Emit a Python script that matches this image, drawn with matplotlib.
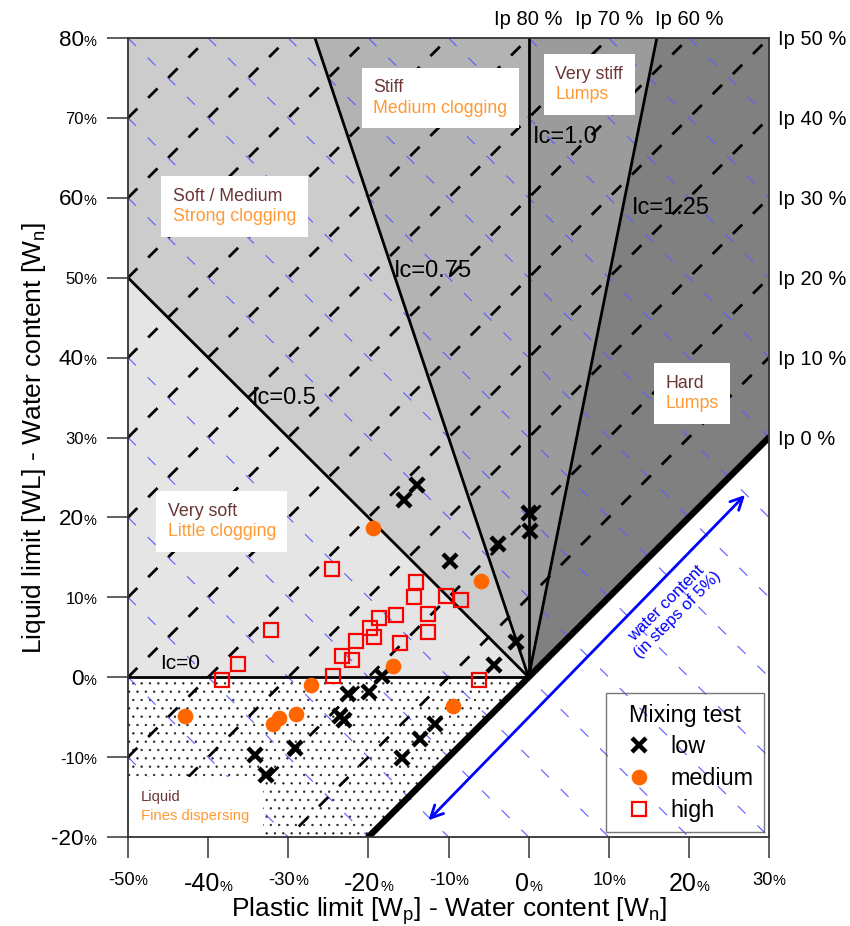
import numpy as np
import matplotlib
matplotlib.use("Agg")
import matplotlib.pyplot as plt
from matplotlib.patches import Polygon
from matplotlib.lines import Line2D
from matplotlib.offsetbox import TextArea, HPacker, VPacker, AnnotationBbox

plt.rcParams["font.family"] = ["Liberation Sans", "DejaVu Sans"]
plt.rcParams["mathtext.fontset"] = "custom"
plt.rcParams["mathtext.rm"] = "Liberation Sans"
plt.rcParams["mathtext.it"] = "Liberation Sans:italic"
plt.rcParams["hatch.linewidth"] = 0.45
plt.rcParams["lines.scale_dashes"] = False

# mixing test results, x = Wp - Wn, y = WL - Wn (in %)
low_x = [-15.6, -13.9, -9.8, -3.8, 0.1, 0.2, -1.6, -4.3, -18.3, -19.9, -22.5,
         -23.5, -23.0, -29.2, -34.2, -32.8, -11.7, -13.6, -15.8]
low_y = [22.2, 24.0, 14.5, 16.7, 20.6, 18.3, 4.4, 1.5, 0.1, -1.8, -2.1,
         -4.9, -5.4, -8.9, -9.7, -12.2, -5.9, -7.7, -10.1]
med_x = [-19.4, -6.0, -16.9, -27.1, -42.9, -29.0, -31.2, -31.9, -9.4]
med_y = [18.7, 12.1, 1.4, -1.0, -4.9, -4.6, -5.1, -5.8, -3.6]
high_x = [-24.5, -32.1, -36.3, -38.3, -24.4, -23.3, -22.1, -21.5, -19.8, -19.3,
          -18.7, -16.6, -16.1, -14.3, -14.1, -12.6, -12.5, -10.3, -8.4, -6.2]
high_y = [13.5, 5.9, 1.6, -0.4, 0.1, 2.7, 2.2, 4.5, 6.2, 5.0,
          7.4, 7.8, 4.3, 10.1, 11.9, 7.9, 5.7, 10.2, 9.7, -0.3]

# consistency index zones
ic_levels = [0, 0.5, 0.75, 1.0, 1.25]
ic_label_xy = [(-43.5, 1.7), (-30.5, 34.9), (-11.9, 50.9), (4.6, 67.6), (17.8, 58.7)]
ic_label_size = [15, 17, 17, 17, 17]
zone_fill = ["#e5e5e5", "#cccccc", "#b3b3b3", "#9b9b9b", "#808080"]

zone_names = ["Liquid", "Very soft", "Soft / Medium", "Stiff", "Very stiff", "Hard"]
zone_effects = ["Fines dispersing", "Little clogging", "Strong clogging",
                "Medium clogging", "Lumps", "Lumps"]
zone_box_xy = [(-50, -12.5), (-46.5, 23.3), (-45.85, 62.7), (-20.8, 76.3),
               (1.9, 78.0), (15.65, 39.3)]
zone_font = [10.7, 12.8, 12.8, 12.8, 12.8, 12.8]
zone_pad = [9.5, 8.3, 8.3, 8.3, 8.3, 8.3]
zone_sep = [3.2, 2.6, 2.6, 2.6, 2.6, 2.6]

ip_top = [80, 70, 60]
ip_right = [50, 40, 30, 20, 10, 0]
ip_lines = list(range(10, 130, 10))
wc_lines = list(range(-60, 110, 10))

x_ticks = [-50, -40, -30, -20, -10, 0, 10, 20, 30]
y_ticks = [-20, -10, 0, 10, 20, 30, 40, 50, 60, 70, 80]

XMIN, XMAX, YMIN, YMAX = -50, 30, -20, 80

fig = plt.figure(figsize=(8.5, 9.26), dpi=100)
ax = fig.add_axes([128 / 850, 1 - 837 / 926, 641 / 850, 799 / 926])
ax.set_xlim(XMIN, XMAX)
ax.set_ylim(YMIN, YMAX)


def unit(d):
    d = np.asarray(d, float)
    return d / np.hypot(*d)


def wedge(d1, d2, R=500):
    return [(0, 0), tuple(R * unit(d1)), tuple(R * unit(d2))]


# boundary directions from the origin, going round counter-clockwise
ic_dirs = [(ic - 1, ic) for ic in ic_levels]
dirs = [(-1, -1)] + ic_dirs + [(1, 1)]

# liquid zone (Ic < 0), stippled
ax.add_patch(Polygon(wedge(dirs[0], dirs[1]), closed=True, facecolor="white",
                     edgecolor="#222222", lw=0, hatch="..", zorder=1))
for i, col in enumerate(zone_fill):
    ax.add_patch(Polygon(wedge(dirs[i + 1], dirs[i + 2]), closed=True,
                         facecolor=col, edgecolor="none", zorder=1))

# water content lines (blue) and plasticity index lines (black)
xs = np.array([XMIN, XMAX])
for c in wc_lines:
    ax.plot(xs, c - xs, color="#5c5cff", lw=0.8, dashes=(8, 12), zorder=2)
for ip in ip_lines:
    ax.plot(xs, xs + ip, color="black", lw=2, dashes=(9.5, 11), zorder=2)

# Ic boundaries
for d in ic_dirs:
    e = 500 * unit(d)
    ax.plot([0, e[0]], [0, e[1]], color="black", lw=2, zorder=3)
ax.plot([YMIN, XMAX], [YMIN, XMAX], color="black", lw=4.6,
        solid_capstyle="round", zorder=3)

for ic, (tx, ty), fs in zip(ic_levels, ic_label_xy, ic_label_size):
    lab = "Ic=1.0" if ic == 1.0 else f"Ic={ic:g}"
    ax.text(tx, ty, lab, fontsize=fs, ha="center", va="center", zorder=4)

# zone boxes
for name, eff, xy, fs, pd, sp in zip(zone_names, zone_effects, zone_box_xy,
                                     zone_font, zone_pad, zone_sep):
    pack = VPacker(children=[TextArea(name, textprops=dict(color="#6b3535", size=fs)),
                             TextArea(eff, textprops=dict(color="#ff9933", size=fs))],
                   align="left", pad=pd, sep=sp)
    ab = AnnotationBbox(pack, xy, xycoords="data", box_alignment=(0, 1),
                        frameon=True, pad=0, annotation_clip=False,
                        bboxprops=dict(facecolor="white", edgecolor="none",
                                       boxstyle="square,pad=0"))
    ab.set_zorder(5)
    ax.add_artist(ab)

# Ip labels
for ip in ip_top:
    ax.text(80 - ip, 81.6, f"Ip {ip} %", fontsize=14.5, ha="center",
            va="baseline", clip_on=False)
for ip in ip_right:
    ax.text(31.1, 30 + ip - 0.9, f"Ip {ip} %", fontsize=14.5, ha="left",
            va="baseline", clip_on=False)

# water content arrow
ax.annotate("", xy=(-12.5, -17.9), xytext=(27.0, 22.8),
            arrowprops=dict(arrowstyle="<->", color="#0000ff", lw=2,
                            mutation_scale=22, shrinkA=0, shrinkB=0), zorder=4)
ax.text(17.9, 8.5, "water content\n(in steps of 5%)", color="#0000ff",
        fontsize=12, rotation=45, rotation_mode="anchor", ha="center",
        va="center", multialignment="center", linespacing=1.05, zorder=4)

# data points
ax.plot(low_x, low_y, ls="none", marker="x", ms=9.5, mew=3.2, color="black", zorder=6)
ax.plot(med_x, med_y, ls="none", marker="o", ms=11.3, mew=0, color="#ff6600", zorder=6)
ax.plot(high_x, high_y, ls="none", marker="s", ms=10, mew=1.6, mfc="none",
        mec="#ff0000", zorder=6)

handles = [
    Line2D([], [], ls="none", marker="x", ms=9.5, mew=3.2, color="black", label="low"),
    Line2D([], [], ls="none", marker="o", ms=11.3, mew=0, color="#ff6600", label="medium"),
    Line2D([], [], ls="none", marker="s", ms=10, mew=1.6, mfc="none", mec="#ff0000",
           label="high"),
]
leg = ax.legend(handles=handles, title="Mixing test", loc="lower right",
                bbox_to_anchor=(0.992, 0.006), borderaxespad=0, fontsize=16.8,
                title_fontsize=16.8, frameon=True, fancybox=False, facecolor="none",
                edgecolor="#555555", handlelength=1.9, handletextpad=0.4,
                borderpad=0.45, labelspacing=0.37)
leg.get_frame().set_linewidth(1)
leg.set_zorder(7)

# axes frame and ticks
for s in ax.spines.values():
    s.set_color("#333333")
    s.set_linewidth(1.3)
    s.set_zorder(8)
ax.set_xticks(x_ticks)
ax.set_yticks(y_ticks)
ax.set_xticklabels([])
ax.set_yticklabels([])
ax.tick_params(length=15, width=1.1, color="#333333", direction="out")


def pct_label(val, big, axis):
    size = (18 if axis == "x" else 16.2) if big else (13.2 if axis == "x" else 12)
    box = HPacker(children=[TextArea(f"{val}", textprops=dict(size=size)),
                            TextArea("%", textprops=dict(size=10.5))],
                  align="baseline", pad=0, sep=0)
    if axis == "x":
        ab = AnnotationBbox(box, (val, 0), xycoords=("data", "axes fraction"),
                            xybox=(0, -25), boxcoords="offset points",
                            box_alignment=(0.5, 1), frameon=False, pad=0,
                            annotation_clip=False)
    else:
        ab = AnnotationBbox(box, (0, val), xycoords=("axes fraction", "data"),
                            xybox=(-22.5, -1.5), boxcoords="offset points",
                            box_alignment=(1, 0.5), frameon=False, pad=0,
                            annotation_clip=False)
    ax.add_artist(ab)


for v in x_ticks:
    pct_label(v, v % 20 == 0, "x")
for v in y_ticks:
    pct_label(v, v % 20 == 0, "y")

ax.text(0.5, -0.0995, "Plastic limit [W$_\\mathrm{p}$] - Water content [W$_\\mathrm{n}$]",
        transform=ax.transAxes, fontsize=19, ha="center", va="baseline")
ax.text(-0.1357, 0.5, "Liquid limit [WL] - Water content [W$_\\mathrm{n}$]",
        transform=ax.transAxes, fontsize=19, ha="center", va="baseline",
        rotation=90, rotation_mode="anchor")

fig.savefig("out.png", dpi=100)
